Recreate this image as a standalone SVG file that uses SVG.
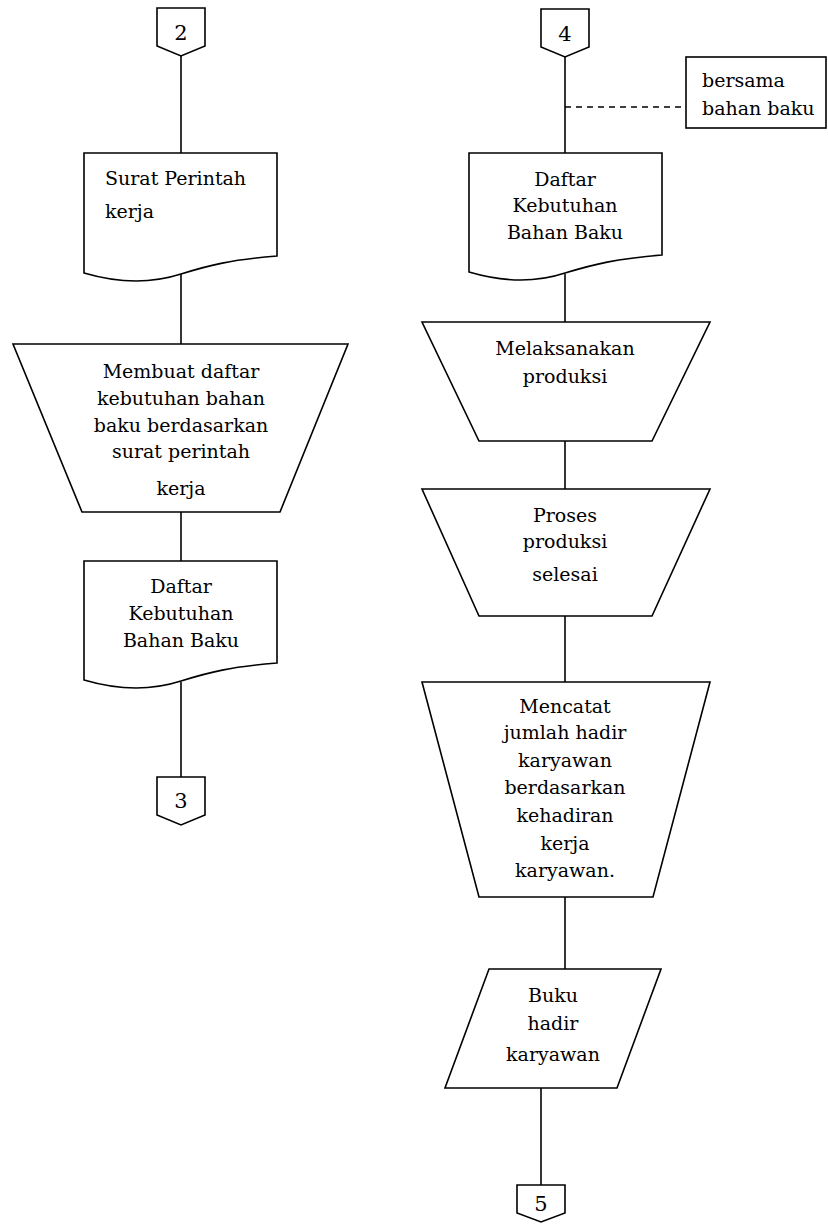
<svg xmlns="http://www.w3.org/2000/svg" width="828" height="1232" viewBox="0 0 828 1232">
  <style>
    .shape { fill: #ffffff; stroke: #000000; stroke-width: 1.6; stroke-linejoin: miter; }
    .line { fill: none; stroke: #000000; stroke-width: 1.6; }
    .dash { fill: none; stroke: #000000; stroke-width: 1.4; stroke-dasharray: 6 5; }
    .t { font-family: 'DejaVu Serif', serif; font-size: 19px; fill: #000000; }
    .n { font-size: 21px; }
    .c { text-anchor: middle; }
  </style>
  <rect width="828" height="1232" fill="#ffffff"/>

  <!-- connectors -->
  <g id="connectors">
    <line class="line" x1="181" y1="56" x2="181" y2="153"/>
    <line class="line" x1="181" y1="274" x2="181" y2="344"/>
    <line class="line" x1="181" y1="512" x2="181" y2="561"/>
    <line class="line" x1="181" y1="682" x2="181" y2="777"/>
    <line class="line" x1="565" y1="57" x2="565" y2="153"/>
    <line class="dash" x1="565" y1="107" x2="686" y2="107"/>
    <line class="line" x1="565" y1="274" x2="565" y2="322"/>
    <line class="line" x1="565" y1="441" x2="565" y2="489"/>
    <line class="line" x1="565" y1="616" x2="565" y2="682"/>
    <line class="line" x1="565" y1="897" x2="565" y2="969"/>
    <line class="line" x1="541" y1="1088" x2="541" y2="1185"/>
  </g>

  <!-- left column -->
  <g id="off-page-2">
    <path class="shape" d="M157,8 H205 V46 L181,56 L157,46 Z"/>
    <text class="t n c" x="181" y="40">2</text>
  </g>
  <g id="doc-surat-perintah">
    <path class="shape" d="M84,153 H277 V256 C230,260 210,265 181,274 C150,284 118,283 84,273 Z"/>
    <text class="t" x="105" y="185">Surat Perintah</text>
    <text class="t" x="105" y="218">kerja</text>
  </g>
  <g id="manual-membuat-daftar">
    <path class="shape" d="M13,344 H348 L280,512 H82 Z"/>
    <text class="t c" x="181" y="378">Membuat daftar</text>
    <text class="t c" x="181" y="405">kebutuhan bahan</text>
    <text class="t c" x="181" y="432">baku berdasarkan</text>
    <text class="t c" x="181" y="458">surat perintah</text>
    <text class="t c" x="181" y="495">kerja</text>
  </g>
  <g id="doc-daftar-kebutuhan-left">
    <path class="shape" d="M84,561 H277 V663 C230,667 210,672 181,681 C150,691 118,690 84,680 Z"/>
    <text class="t c" x="181" y="593">Daftar</text>
    <text class="t c" x="181" y="620">Kebutuhan</text>
    <text class="t c" x="181" y="647">Bahan Baku</text>
  </g>
  <g id="off-page-3">
    <path class="shape" d="M157,777 H205 V815 L181,825 L157,815 Z"/>
    <text class="t n c" x="181" y="808">3</text>
  </g>

  <!-- right column -->
  <g id="off-page-4">
    <path class="shape" d="M541,9 H589 V47 L565,57 L541,47 Z"/>
    <text class="t n c" x="565" y="41">4</text>
  </g>
  <g id="note-bahan-baku">
    <rect class="shape" x="686" y="57" width="140" height="71"/>
    <text class="t" x="702" y="87">bersama</text>
    <text class="t" x="702" y="115">bahan baku</text>
  </g>
  <g id="doc-daftar-kebutuhan-right">
    <path class="shape" d="M469,153 H662 V255 C615,259 595,264 565,273 C535,283 503,282 469,272 Z"/>
    <text class="t c" x="565" y="186">Daftar</text>
    <text class="t c" x="565" y="212">Kebutuhan</text>
    <text class="t c" x="565" y="239">Bahan Baku</text>
  </g>
  <g id="manual-melaksanakan">
    <path class="shape" d="M422,322 H710 L652,441 H479 Z"/>
    <text class="t c" x="565" y="355">Melaksanakan</text>
    <text class="t c" x="565" y="383">produksi</text>
  </g>
  <g id="manual-proses-selesai">
    <path class="shape" d="M422,489 H710 L652,616 H479 Z"/>
    <text class="t c" x="565" y="522">Proses</text>
    <text class="t c" x="565" y="548">produksi</text>
    <text class="t c" x="565" y="581">selesai</text>
  </g>
  <g id="manual-mencatat">
    <path class="shape" d="M422,682 H710 L653,897 H479 Z"/>
    <text class="t c" x="565" y="713">Mencatat</text>
    <text class="t c" x="565" y="739">jumlah hadir</text>
    <text class="t c" x="565" y="767">karyawan</text>
    <text class="t c" x="565" y="794">berdasarkan</text>
    <text class="t c" x="565" y="822">kehadiran</text>
    <text class="t c" x="565" y="850">kerja</text>
    <text class="t c" x="565" y="877">karyawan.</text>
  </g>
  <g id="data-buku-hadir">
    <path class="shape" d="M489,969 H661 L617,1088 H445 Z"/>
    <text class="t c" x="553" y="1002">Buku</text>
    <text class="t c" x="553" y="1030">hadir</text>
    <text class="t c" x="553" y="1061">karyawan</text>
  </g>
  <g id="off-page-5">
    <path class="shape" d="M517,1185 H565 V1213 L541,1222 L517,1213 Z"/>
    <text class="t n c" x="541" y="1211">5</text>
  </g>
</svg>
